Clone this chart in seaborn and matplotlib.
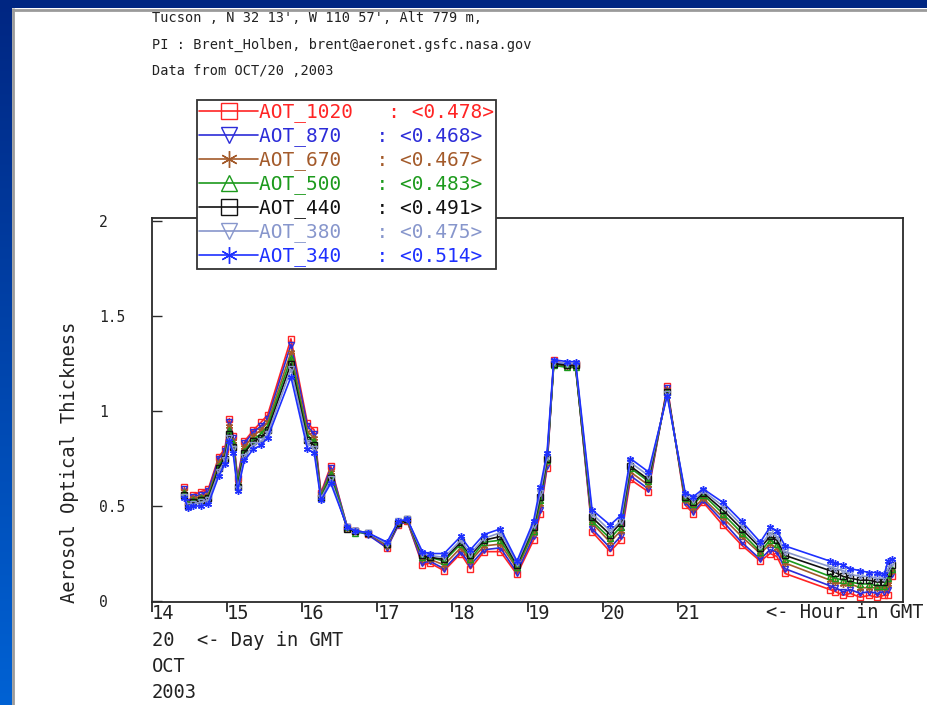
import numpy as np
import pandas as pd
import matplotlib
matplotlib.use("Agg")
import matplotlib.pyplot as plt
import seaborn as sns
from matplotlib.patches import Rectangle

# ---------------- data ----------------
hours = [14.43, 14.48, 14.55, 14.65, 14.75, 14.89, 14.97, 15.03, 15.08, 15.14,
         15.23, 15.35, 15.45, 15.54, 15.85, 16.07, 16.16, 16.25, 16.38, 16.60,
         16.70, 16.87, 17.13, 17.28, 17.40, 17.60, 17.70, 17.89, 18.11, 18.24,
         18.42, 18.64, 18.86, 19.08, 19.17, 19.26, 19.35, 19.53, 19.64, 19.86,
         20.10, 20.24, 20.37, 20.61, 20.86, 21.10, 21.21, 21.34, 21.60, 21.85,
         22.10, 22.23, 22.32, 22.43, 23.03, 23.10, 23.20, 23.30, 23.43, 23.55,
         23.65, 23.75, 23.80, 23.85]

aot_1020 = [0.60, 0.52, 0.56, 0.575, 0.59, 0.76, 0.80, 0.96, 0.87, 0.65,
            0.84, 0.90, 0.94, 0.98, 1.38, 0.935, 0.90, 0.57, 0.71, 0.39,
            0.37, 0.355, 0.28, 0.40, 0.42, 0.19, 0.20, 0.16, 0.25, 0.17,
            0.26, 0.26, 0.14, 0.32, 0.46, 0.70, 1.27, 1.24, 1.25, 0.365,
            0.26, 0.32, 0.64, 0.575, 1.13, 0.505, 0.46, 0.52, 0.40, 0.295,
            0.21, 0.25, 0.235, 0.145, 0.06, 0.05, 0.03, 0.04, 0.02, 0.03,
            0.02, 0.03, 0.03, 0.13]
aot_870 = [0.59, 0.52, 0.55, 0.56, 0.58, 0.75, 0.79, 0.94, 0.86, 0.64,
           0.83, 0.89, 0.92, 0.96, 1.35, 0.92, 0.88, 0.56, 0.70, 0.39,
           0.37, 0.35, 0.28, 0.40, 0.42, 0.20, 0.21, 0.17, 0.26, 0.19,
           0.27, 0.28, 0.15, 0.34, 0.48, 0.71, 1.26, 1.24, 1.24, 0.38,
           0.28, 0.34, 0.66, 0.59, 1.12, 0.52, 0.47, 0.53, 0.42, 0.31,
           0.22, 0.27, 0.26, 0.17, 0.08, 0.07, 0.05, 0.06, 0.04, 0.05,
           0.04, 0.05, 0.06, 0.14]
aot_670 = [0.58, 0.51, 0.54, 0.55, 0.56, 0.73, 0.77, 0.92, 0.84, 0.63,
           0.81, 0.87, 0.90, 0.94, 1.31, 0.89, 0.86, 0.56, 0.68, 0.38,
           0.37, 0.36, 0.29, 0.41, 0.42, 0.22, 0.22, 0.19, 0.28, 0.21,
           0.29, 0.30, 0.17, 0.36, 0.51, 0.73, 1.25, 1.23, 1.23, 0.41,
           0.31, 0.37, 0.68, 0.61, 1.11, 0.53, 0.49, 0.54, 0.44, 0.34,
           0.25, 0.30, 0.28, 0.20, 0.11, 0.10, 0.09, 0.09, 0.07, 0.07,
           0.07, 0.07, 0.09, 0.16]
aot_500 = [0.57, 0.51, 0.53, 0.54, 0.55, 0.71, 0.76, 0.90, 0.83, 0.62,
           0.79, 0.85, 0.88, 0.92, 1.28, 0.87, 0.84, 0.55, 0.67, 0.39,
           0.36, 0.36, 0.30, 0.41, 0.43, 0.23, 0.23, 0.21, 0.30, 0.22,
           0.31, 0.32, 0.18, 0.37, 0.53, 0.74, 1.24, 1.23, 1.23, 0.42,
           0.33, 0.39, 0.70, 0.63, 1.10, 0.54, 0.51, 0.56, 0.46, 0.36,
           0.26, 0.32, 0.30, 0.22, 0.13, 0.12, 0.11, 0.10, 0.09, 0.09,
           0.08, 0.08, 0.12, 0.17]
aot_440 = [0.56, 0.50, 0.52, 0.53, 0.54, 0.70, 0.75, 0.88, 0.81, 0.60,
           0.78, 0.84, 0.86, 0.90, 1.25, 0.85, 0.82, 0.54, 0.65, 0.38,
           0.37, 0.36, 0.30, 0.41, 0.43, 0.24, 0.23, 0.22, 0.31, 0.24,
           0.32, 0.34, 0.19, 0.39, 0.55, 0.75, 1.25, 1.24, 1.24, 0.44,
           0.35, 0.41, 0.71, 0.64, 1.10, 0.55, 0.52, 0.57, 0.48, 0.38,
           0.28, 0.34, 0.32, 0.24, 0.16, 0.15, 0.13, 0.12, 0.11, 0.11,
           0.10, 0.10, 0.15, 0.19]
aot_380 = [0.55, 0.50, 0.51, 0.52, 0.53, 0.68, 0.74, 0.86, 0.80, 0.59,
           0.76, 0.82, 0.84, 0.88, 1.22, 0.83, 0.80, 0.54, 0.64, 0.39,
           0.37, 0.36, 0.30, 0.42, 0.43, 0.25, 0.24, 0.23, 0.32, 0.25,
           0.33, 0.36, 0.20, 0.40, 0.57, 0.76, 1.26, 1.25, 1.25, 0.46,
           0.37, 0.42, 0.73, 0.66, 1.09, 0.56, 0.53, 0.58, 0.50, 0.40,
           0.29, 0.36, 0.34, 0.26, 0.18, 0.17, 0.16, 0.14, 0.13, 0.13,
           0.12, 0.12, 0.17, 0.20]
aot_340 = [0.54, 0.49, 0.50, 0.50, 0.51, 0.66, 0.72, 0.84, 0.78, 0.58,
           0.74, 0.80, 0.82, 0.86, 1.18, 0.80, 0.78, 0.53, 0.62, 0.39,
           0.37, 0.36, 0.31, 0.42, 0.43, 0.26, 0.25, 0.25, 0.34, 0.27,
           0.35, 0.38, 0.21, 0.42, 0.60, 0.78, 1.27, 1.26, 1.26, 0.48,
           0.40, 0.45, 0.75, 0.68, 1.08, 0.57, 0.55, 0.59, 0.52, 0.42,
           0.31, 0.39, 0.37, 0.29, 0.21, 0.20, 0.19, 0.17, 0.16, 0.15,
           0.15, 0.14, 0.21, 0.22]

series_names = ["AOT_1020", "AOT_870", "AOT_670", "AOT_500", "AOT_440", "AOT_380", "AOT_340"]
series_means = ["0.478", "0.468", "0.467", "0.483", "0.491", "0.475", "0.514"]
series_values = [aot_1020, aot_870, aot_670, aot_500, aot_440, aot_380, aot_340]

hour_ticks = [14, 15, 16, 17, 18, 19, 20, 21]
y_ticks = [0, 0.5, 1, 1.5, 2]
y_tick_labels = ["0", "0.5", "1", "1.5", "2"]

title_lines = ["Tucson , N 32 13', W 110 57', Alt 779 m,",
               "PI : Brent_Holben, brent@aeronet.gsfc.nasa.gov",
               "Data from OCT/20 ,2003"]
date_lines = ["20  <- Day in GMT", "OCT", "2003"]

# ---------------- styles ----------------
colors = ["#ff2424", "#2c2cd8", "#a35a2a", "#1c9a1c", "#111111", "#8796cc", "#1e30ff"]
star = (6, 2, 0)
markers = ["s", "v", star, "^", "s", "v", star]

sns.set_theme(style="white")
plt.rcParams["font.family"] = ["DejaVu Sans Mono", "DejaVu Sans"]

W, H = 927, 705
fig = plt.figure(figsize=(W / 100, H / 100), dpi=100)

# background (slide-like blue frame with white panel)
bg = fig.add_axes([0, 0, 1, 1], zorder=-10)
g = np.linspace(0, 1, H)[:, None, None]
top_c = np.array([0, 38, 130]) / 255
bot_c = np.array([0, 98, 212]) / 255
img = top_c + (bot_c - top_c) * g
img = np.repeat(img, 2, axis=1)
bg.imshow(img, extent=[0, W, H, 0], aspect="auto")
bg.add_patch(Rectangle((12, 8), W - 12, H - 8, facecolor="white", edgecolor="none"))
bg.plot([12, W], [9.5, 9.5], color="#9a9a9a", lw=2.0, solid_capstyle="butt")
bg.plot([13.5, 13.5], [8, H], color="#9a9a9a", lw=2.0, solid_capstyle="butt")
bg.set_xlim(0, W)
bg.set_ylim(H, 0)
bg.axis("off")

# main axes
L, R, T, B = 152, 903, 218, 602
ax = fig.add_axes([L / W, 1 - B / H, (R - L) / W, (B - T) / H])
ax.set_facecolor("white")

for name, mean, vals, c, m in zip(series_names, series_means, series_values, colors, markers):
    df = pd.DataFrame({"hour": hours, "aot": vals})
    sns.lineplot(data=df, x="hour", y="aot", ax=ax, color=c, lw=1.2,
                 marker=m, markersize=5, markerfacecolor="none",
                 markeredgecolor=c, markeredgewidth=1.0,
                 label=f"{name}   : <{mean}>")

ax.set_xlim(14, 24)
ax.set_ylim(-0.005, 2.016)
ax.set_xlabel("")
ax.set_ylabel("")
ax.set_xticks(hour_ticks)
ax.set_xticklabels([str(h) for h in hour_ticks])
ax.set_yticks(y_ticks)
ax.set_yticklabels(y_tick_labels)
for sp in ax.spines.values():
    sp.set_color("#2a2a2a")
    sp.set_linewidth(1.3)
    sp.set_visible(True)

ax.tick_params(axis="y", direction="in", length=7.5, width=1.0, color="#2a2a2a",
               pad=38, labelsize=10.5, labelcolor="#222222", left=True, right=False)
ax.tick_params(axis="x", direction="out", length=7.5, width=1.3, color="#2a2a2a",
               pad=-6.2, labelsize=13.5, labelcolor="#222222", bottom=True, top=False)
for lab in ax.get_yticklabels():
    lab.set_horizontalalignment("left")
for lab in ax.get_xticklabels():
    lab.set_horizontalalignment("left")

leg = ax.legend(loc="upper left", bbox_to_anchor=(197 / W, 1 - 100 / H),
                bbox_transform=fig.transFigure, borderaxespad=0,
                frameon=True, fancybox=False, framealpha=1, edgecolor="#333333",
                borderpad=0.12, labelspacing=0.21, handlelength=3.0, handletextpad=0.05,
                markerscale=2.4, labelcolor="linecolor",
                prop={"family": "DejaVu Sans Mono", "size": 14})
leg.get_frame().set_linewidth(1.3)
leg.set_zorder(10)

# texts
for i, t in enumerate(title_lines):
    fig.text(152 / W, 1 - (18 + 26.5 * i) / H, t, fontsize=9.8, ha="left", va="center",
             color="#222222")
fig.text(70 / W, 1 - 462 / H, "Aerosol Optical Thickness", rotation=90, fontsize=13.5,
         ha="center", va="center", color="#222222")
fig.text(766 / W, 1 - 612 / H, "<- Hour in GMT", fontsize=13.5, ha="left", va="center",
         color="#222222")
for i, t in enumerate(date_lines):
    fig.text(152 / W, 1 - (640 + 26 * i) / H, t, fontsize=13.5, ha="left", va="center",
             color="#222222")

fig.savefig("out.png", dpi=100)
